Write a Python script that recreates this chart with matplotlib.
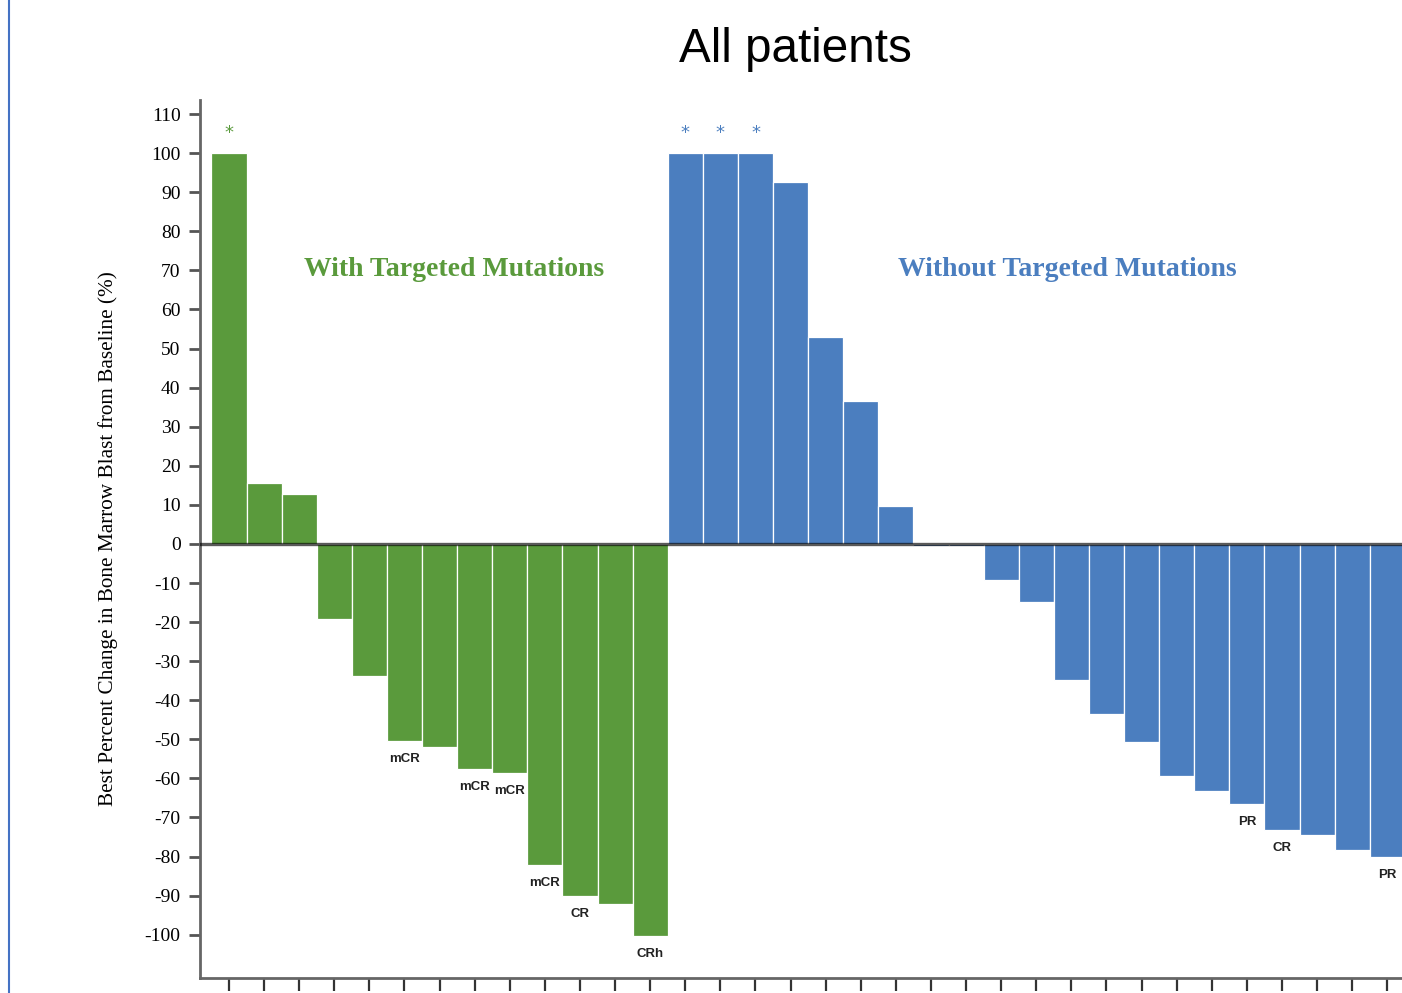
import matplotlib
matplotlib.use("Agg")
import matplotlib.pyplot as plt
from matplotlib.lines import Line2D

# ---- data ----
green_values = [100, 15.5, 12.9, -19.3, -33.7, -50.4, -51.9, -57.5, -58.7,
                -82.2, -90.2, -92.1, -100.3]
blue_values = [100, 100, 100, 92.6, 52.9, 36.6, 9.8, -0.6, -0.6, -9.2, -14.8,
               -34.7, -43.4, -50.6, -59.4, -63.1, -66.5, -73.3, -74.4, -78.3, -80.1]
green_labels = {6: "mCR", 8: "mCR", 9: "mCR", 10: "mCR", 11: "CR", 13: "CRh"}
blue_labels = {17: "PR", 18: "CR", 21: "PR"}
green_stars = [1]
blue_stars = [1, 2, 3]
yticks = list(range(-100, 111, 10))

GREEN = "#5A9A3C"
BLUE = "#4B7EBF"

fig = plt.figure(figsize=(14.02, 9.93), dpi=100)
W, H = 1402, 993
ax = fig.add_axes([200 / W, (H - 977.7) / H, 1222.4 / W, (977.7 - 100) / H])
ax.set_xlim(0.174, 35.0)
ax.set_ylim(-111.0, 113.6)

ng = len(green_values)
gx = list(range(1, ng + 1))
bx = list(range(ng + 1, ng + 1 + len(blue_values)))

ax.bar(gx, green_values, width=1.0, color=GREEN, edgecolor="white", linewidth=0.9, zorder=2)
ax.bar(bx, blue_values, width=1.0, color=BLUE, edgecolor="white", linewidth=0.9, zorder=2)

ax.axhline(0, color="black", alpha=0.65, lw=2.4, zorder=3)

# stars
for i in green_stars:
    ax.text(gx[i - 1], green_values[i - 1] + 5.2, "*", color=GREEN, ha="center",
            va="center", fontsize=13, fontfamily="DejaVu Sans")
for i in blue_stars:
    ax.text(bx[i - 1], blue_values[i - 1] + 5.2, "*", color=BLUE, ha="center",
            va="center", fontsize=13, fontfamily="DejaVu Sans")

# response labels
lab_kw = dict(ha="center", va="center", fontsize=9.5, fontweight="bold",
              fontfamily="Liberation Sans", color="#222222")
for i, t in green_labels.items():
    ax.text(gx[i - 1], green_values[i - 1] - 4.6, t, **lab_kw)
for i, t in blue_labels.items():
    ax.text(bx[i - 1], blue_values[i - 1] - 4.6, t, **lab_kw)

# group headers
ax.text(7.4, 70.2, "With Targeted Mutations", color=GREEN, ha="center", va="center",
        fontsize=20, fontweight="bold", fontfamily="Liberation Serif")
ax.text(24.87, 70.2, "Without Targeted Mutations", color=BLUE, ha="center", va="center",
        fontsize=20, fontweight="bold", fontfamily="Liberation Serif")

# axes styling
for s in ["top", "right"]:
    ax.spines[s].set_visible(False)
for s in ["left", "bottom"]:
    ax.spines[s].set_color("#666666")
    ax.spines[s].set_linewidth(2)

ax.set_yticks(yticks)
ax.set_yticklabels([str(v) for v in yticks], fontfamily="Liberation Serif", fontsize=14)
ax.tick_params(axis="y", direction="out", length=8, width=2, color="#555555", pad=6)
ax.set_xticks(gx + bx)
ax.set_xticklabels([])
ax.tick_params(axis="x", direction="out", length=9, width=1.6, color="#333333")

ax.set_ylabel("Best Percent Change in Bone Marrow Blast from Baseline (%)",
              fontfamily="Liberation Serif", fontsize=15.3, labelpad=19)

fig.text(795 / W, 1 - 50 / H, "All patients", ha="center", va="center",
         fontsize=34.3, fontfamily="Liberation Sans")

# left blue border
fig.add_artist(Line2D([8.5 / W, 8.5 / W], [0, 1], color="#4472C4", lw=1.5,
                      transform=fig.transFigure))

fig.savefig("out.png", dpi=100)
